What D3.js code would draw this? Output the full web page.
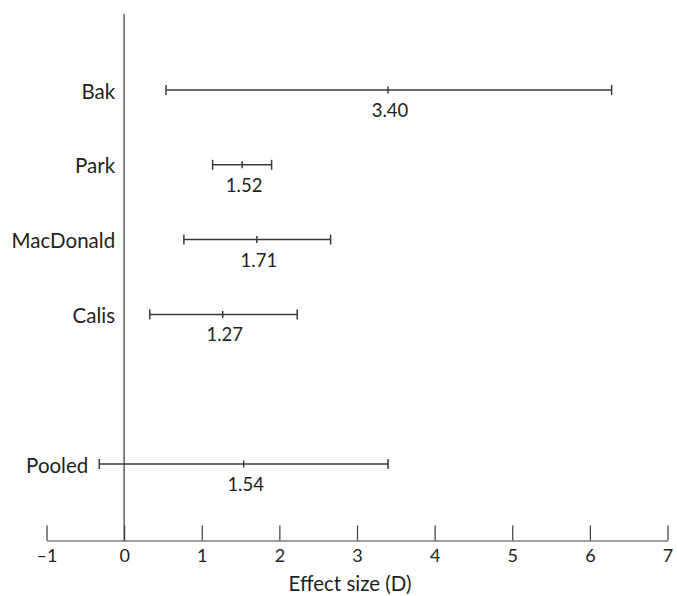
<!DOCTYPE html>
<html><head><meta charset="utf-8">
<script src="https://cdn.jsdelivr.net/npm/d3@7"></script>
<style>body{margin:0;background:#fff}svg{display:block}text{font-family:Lato,"Open Sans",sans-serif;fill:#231f20}</style>
</head><body>
<script>
const studies = ["Bak","Park","MacDonald","Calis","","Pooled"];
const names = ["Bak","Park","MacDonald","Calis","Pooled"];
const estimates = [3.40,1.52,1.71,1.27,1.54];
const lower = [0.54,1.14,0.77,0.33,-0.32];
const upper = [6.28,1.90,2.66,2.23,3.40];
const xTicks = [-1,0,1,2,3,4,5,6,7];
const xTitle = "Effect size (D)";

const W=677,H=596;
const svg=d3.select("body").append("svg").attr("width",W).attr("height",H);
const x=d3.scaleLinear().domain([-1,7]).range([46.5,667.5]);
const y=d3.scalePoint().domain(studies).range([90,464]);
const axisY=540.5;
const col="#3a3a3a";

// x axis
const ax=svg.append("g").attr("transform",`translate(0,${axisY})`)
  .call(d3.axisBottom(x).tickValues(xTicks).tickSizeInner(-15).tickSizeOuter(0).tickPadding(9)
    .tickFormat(d=>d<0?"\u2013"+Math.abs(d):d));
ax.select(".domain").attr("stroke",col).attr("stroke-width",1.2);
ax.selectAll(".tick line").attr("stroke",col).attr("stroke-width",1.2);
ax.selectAll(".tick text").attr("font-size",18).attr("fill","#231f20").attr("font-family","Lato");
svg.append("text").attr("x",350).attr("y",591).attr("text-anchor","middle").attr("font-size",20.5).text(xTitle);

// zero line
svg.append("line").attr("x1",x(0)).attr("x2",x(0)).attr("y1",14).attr("y2",axisY).attr("stroke",col).attr("stroke-width",1.2);

const rows=names.map((n,i)=>({n,e:estimates[i],lo:lower[i],hi:upper[i]}));
const g=svg.selectAll("g.row").data(rows).join("g").attr("class","row");
g.append("line").attr("x1",d=>x(d.lo)).attr("x2",d=>x(d.hi)).attr("y1",d=>y(d.n)).attr("y2",d=>y(d.n)).attr("stroke",col).attr("stroke-width",1.5);
g.append("line").attr("x1",d=>x(d.lo)).attr("x2",d=>x(d.lo)).attr("y1",d=>y(d.n)-5).attr("y2",d=>y(d.n)+5).attr("stroke",col).attr("stroke-width",1.5);
g.append("line").attr("x1",d=>x(d.hi)).attr("x2",d=>x(d.hi)).attr("y1",d=>y(d.n)-5).attr("y2",d=>y(d.n)+5).attr("stroke",col).attr("stroke-width",1.5);
g.append("line").attr("x1",d=>x(d.e)).attr("x2",d=>x(d.e)).attr("y1",d=>y(d.n)-3.5).attr("y2",d=>y(d.n)+3.5).attr("stroke",col).attr("stroke-width",1.5);
g.append("text").attr("x",d=>x(d.e)+2).attr("y",d=>y(d.n)+27).attr("text-anchor","middle").attr("font-size",18.5).text(d=>d.e.toFixed(2));
g.append("text").attr("x",d=>Math.min(x(0)-9,x(d.lo)-11)).attr("y",d=>y(d.n)+8.5).attr("text-anchor","end").attr("font-size",20.5).text(d=>d.n);
</script>
</body></html>
